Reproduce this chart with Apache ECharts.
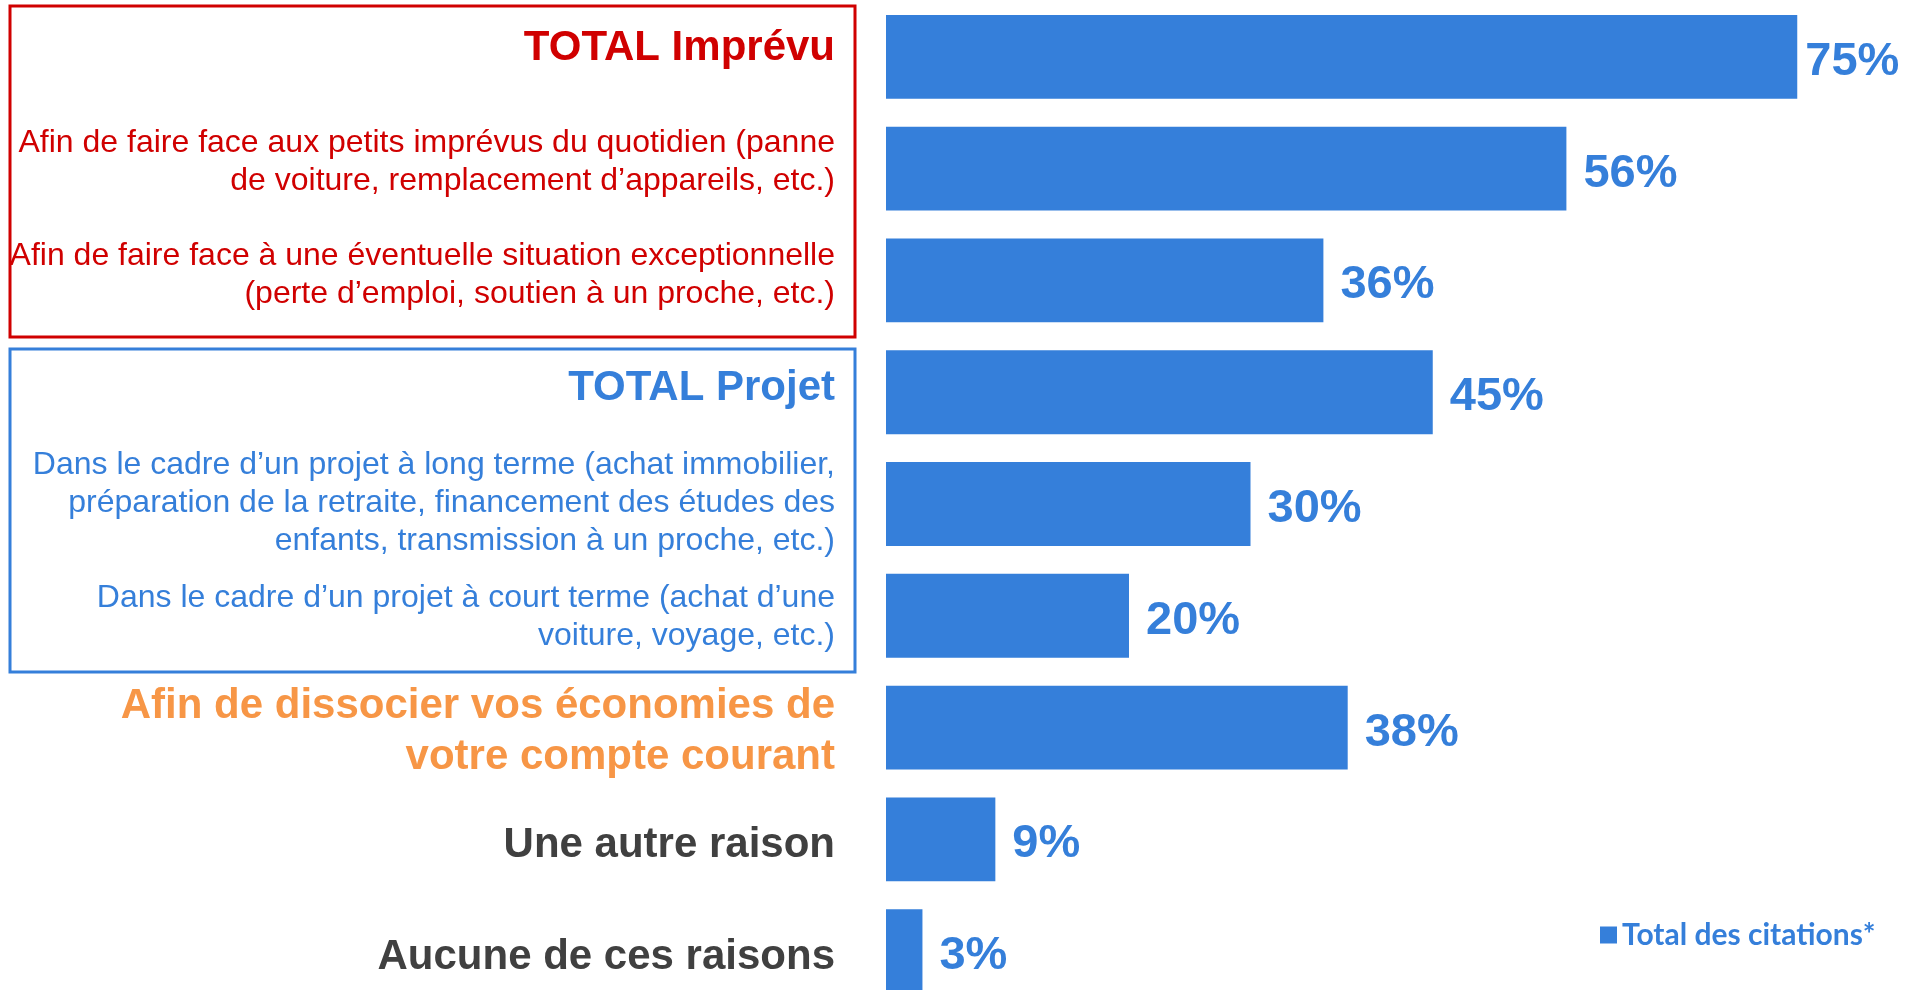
<!DOCTYPE html>
<html>
<head>
<meta charset="utf-8">
<script src="https://cdn.jsdelivr.net/npm/echarts@6/dist/echarts.min.js"></script>
<style>
	html, body {margin: 0; padding: 0; background: #fff;}
	#chart {width: 1908px; height: 990px;}
</style>
</head>
<body>
<div id="chart"></div>
<script>
// categories, top to bottom
var categories = [
	'TOTAL Imprévu',
	'Afin de faire face aux petits imprévus du quotidien (panne\nde voiture, remplacement d’appareils, etc.)',
	'Afin de faire face à une éventuelle situation exceptionnelle\n(perte d’emploi, soutien à un proche, etc.)',
	'TOTAL Projet',
	'Dans le cadre d’un projet à long terme (achat immobilier,\npréparation de la retraite, financement des études des\nenfants, transmission à un proche, etc.)',
	'Dans le cadre d’un projet à court terme (achat d’une\nvoiture, voyage, etc.)',
	'Afin de dissocier vos économies de\nvotre compte courant',
	'Une autre raison',
	'Aucune de ces raisons'
];
var values = [75, 56, 36, 45, 30, 20, 38, 9, 3];
var seriesName = 'Total des citations*';
var labelKinds = ['redHead', 'red', 'red', 'blueHead', 'blue', 'blue', 'orange', 'grey', 'grey'];

var BLUE = '#357fda';
var font = '"Liberation Sans", Arial, sans-serif';

var baseRich = {
	redHead: {color: '#d00000', fontSize: 42, fontWeight: 'bold', lineHeight: 48},
	red: {color: '#d00000', fontSize: 32, lineHeight: 38},
	blueHead: {color: BLUE, fontSize: 42, fontWeight: 'bold', lineHeight: 48},
	blue: {color: BLUE, fontSize: 32, lineHeight: 38},
	orange: {color: '#f79646', fontSize: 42, fontWeight: 'bold', lineHeight: 51},
	grey: {color: '#404040', fontSize: 42, fontWeight: 'bold', lineHeight: 48}
};
// vertical nudges of the labels (px, + is up, - is down), done with an empty spacer line
var nudge = [8, 6.5, 5.5, 3.5, 1, -1, -4, -6, -6];

var rich = {};
for (var k in baseRich) {
	rich[k] = Object.assign({fontFamily: font}, baseRich[k]);
}
nudge.forEach(function(n, i) {
	rich['sp' + i] = {fontSize: 1, lineHeight: Math.abs(n) * 2};
});

var chart = echarts.init(document.getElementById('chart'));

var option = {
	animation: false,
	backgroundColor: '#fff',
	grid: {left: 886, right: 50, top: 1, height: 1006, outerBoundsMode: 'none'},
	legend: {
		data: [seriesName],
		left: 1595,
		top: 915,
		icon: 'rect',
		itemWidth: 17,
		itemHeight: 17,
		itemGap: 7,
		textStyle: {color: BLUE, fontSize: 30, fontWeight: 'bold', fontFamily: 'Lato, sans-serif'}
	},
	xAxis: {
		type: 'value',
		min: 0,
		max: 80,
		show: false
	},
	yAxis: {
		type: 'category',
		inverse: true,
		data: categories,
		axisLine: {show: false},
		axisTick: {show: false},
		axisLabel: {
			margin: 51,
			align: 'right',
			formatter: function(value, index) {
				var kind = labelKinds[index];
				var txt = value.split('\n').map(function(l) {
					return '{' + kind + '|' + l + '}';
				}).join('\n');
				var n = nudge[index];
				if (n > 0) {
					txt += '\n{sp' + index + '| }';
				} else if (n < 0) {
					txt = '{sp' + index + '| }\n' + txt;
				}
				return txt;
			},
			rich: rich
		}
	},
	series: [{
		name: seriesName,
		type: 'bar',
		data: values.map(function(v, i) {
			return i == 0 ? {value: v, label: {distance: 8}} : v;
		}),
		barCategoryGap: '25%',
		itemStyle: {color: BLUE},
		label: {
			show: true,
			position: 'right',
			distance: 17,
			offset: [0, 5],
			formatter: '{c}%',
			color: BLUE,
			fontSize: 47,
			fontWeight: 'bold',
			fontFamily: font
		}
	}],
	graphic: [
		{type: 'rect', shape: {x: 10, y: 6, width: 845, height: 331}, style: {fill: null, stroke: '#d00000', lineWidth: 3}},
		{type: 'rect', shape: {x: 10, y: 349, width: 845, height: 323}, style: {fill: null, stroke: BLUE, lineWidth: 3}}
	]
};

chart.setOption(option);
</script>
</body>
</html>
